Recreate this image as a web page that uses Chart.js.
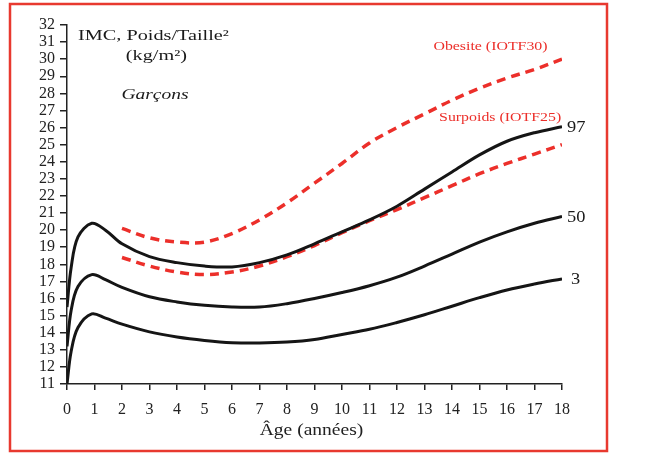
<!DOCTYPE html>
<html>
<head>
<meta charset="utf-8">
<script src="https://cdn.jsdelivr.net/npm/chart.js@4/dist/chart.umd.min.js"></script>
<style>
html, body { margin: 0; padding: 0; background: #fff; }
</style>
</head>
<body>
<canvas id="chartImc" width="646" height="455"></canvas>
<script>
// Courbes de corpulence - garçons (IMC en kg/m2)
const agesCourbe = [0, 0.15, 0.4, 0.9, 1.4, 2, 3, 4, 5, 6, 7, 8, 9, 10, 11, 12, 13, 14, 15, 16, 17, 18];
const p3  = [11.0, 12.9, 14.3, 15.1, 14.85, 14.5, 14.05, 13.75, 13.55, 13.42, 13.4, 13.45, 13.6, 13.9, 14.2, 14.6, 15.05, 15.55, 16.05, 16.5, 16.85, 17.15];
const p50 = [13.2, 15.3, 16.7, 17.4, 17.1, 16.65, 16.1, 15.8, 15.6, 15.5, 15.5, 15.7, 16.0, 16.35, 16.75, 17.25, 17.9, 18.6, 19.3, 19.9, 20.4, 20.8];
const p97 = [15.5, 17.8, 19.6, 20.4, 20.0, 19.2, 18.45, 18.1, 17.9, 17.85, 18.1, 18.55, 19.2, 19.9, 20.6, 21.4, 22.4, 23.4, 24.4, 25.2, 25.7, 26.05];

// seuils IOTF
const agesIotf = [2, 3, 4, 5, 6, 7, 8, 9, 10, 11, 12, 13, 14, 15, 16, 17, 18];
const iotf25 = [18.4, 17.9, 17.55, 17.4, 17.55, 17.9, 18.45, 19.1, 19.85, 20.55, 21.2, 21.9, 22.6, 23.3, 23.9, 24.45, 25.0];
const iotf30 = [20.1, 19.55, 19.3, 19.3, 19.8, 20.6, 21.6, 22.75, 23.9, 25.1, 26.0, 26.8, 27.6, 28.3, 28.9, 29.4, 30.0];

const etiquettesPercentile = ["3", "50", "97"];

const pts = (xs, ys) => xs.map((x, i) => ({ x: x, y: ys[i] }));

const noir = "#151515";
const rouge = "#ec2f2a";
const serif = "'Liberation Serif', 'DejaVu Serif', serif";

const courbe = (data) => ({
  data: data,
  borderColor: noir,
  borderWidth: 3,
  pointRadius: 0,
  tension: 0.35,
  fill: false,
});

const seuil = (data) => ({
  data: data,
  borderColor: rouge,
  borderWidth: 3.5,
  borderDash: [9, 6],
  pointRadius: 0,
  tension: 0.35,
  fill: false,
});

// texte elargi horizontalement comme sur l'original
function texte(ctx, str, x, y, align, etire) {
  ctx.save();
  ctx.translate(x, y);
  ctx.scale(etire, 1);
  ctx.textAlign = align;
  ctx.fillText(str, 0, 0);
  ctx.restore();
}

const textes = {
  id: "textes",
  beforeDraw(chart) {
    const ctx = chart.ctx;
    ctx.save();
    ctx.fillStyle = "#fff";
    ctx.fillRect(0, 0, chart.width, chart.height);
    ctx.restore();
  },
  afterDraw(chart) {
    const ctx = chart.ctx;
    const xs = chart.scales.x, ys = chart.scales.y;
    const px = (v) => xs.getPixelForValue(v);
    const py = (v) => ys.getPixelForValue(v);
    ctx.save();
    // cadre rouge
    ctx.strokeStyle = "#e8392f";
    ctx.lineWidth = 2.5;
    ctx.strokeRect(10, 4, 597, 447);

    ctx.textBaseline = "middle";
    ctx.fillStyle = "#1a1a1a";
    ctx.font = "15px " + serif;
    texte(ctx, "IMC, Poids/Taille²", px(0.4), py(31.35), "left", 1.35);
    texte(ctx, "(kg/m²)", px(3.25), py(30.2), "center", 1.35);
    ctx.font = "italic 15px " + serif;
    texte(ctx, "Garçons", px(3.2), py(27.9), "center", 1.3);

    // titre de l'axe des x
    ctx.font = "16px " + serif;
    ctx.fillStyle = "#222";
    texte(ctx, "Âge (années)", (xs.left + xs.right) / 2 - 3, xs.bottom - 24, "center", 1.22);

    // etiquettes des percentiles en fin de courbe
    ctx.fillStyle = "#1a1a1a";
    [p3, p50, p97].forEach((serie, i) => {
      texte(ctx, etiquettesPercentile[i], px(18) + (i === 0 ? 9 : 5), py(serie[serie.length - 1]) + 1, "left", 1.15);
    });

    // etiquettes IOTF
    ctx.fillStyle = rouge;
    ctx.font = "11.5px " + serif;
    texte(ctx, "Obesite (IOTF30)", px(15.4), py(30.7), "center", 1.38);
    texte(ctx, "Surpoids (IOTF25)", px(15.75), py(26.55), "center", 1.38);
    ctx.restore();
  },
};

new Chart(document.getElementById("chartImc"), {
  type: "line",
  data: {
    datasets: [
      courbe(pts(agesCourbe, p97)),
      courbe(pts(agesCourbe, p50)),
      courbe(pts(agesCourbe, p3)),
      seuil(pts(agesIotf, iotf30)),
      seuil(pts(agesIotf, iotf25)),
    ],
  },
  options: {
    responsive: false,
    animation: false,
    layout: { padding: { top: 25, right: 84, left: 0, bottom: 0 } },
    plugins: { legend: { display: false }, tooltip: { enabled: false } },
    scales: {
      x: {
        type: "linear",
        min: 0,
        max: 18,
        afterFit: (s) => { s.height = 71; },
        ticks: { stepSize: 1, autoSkip: false, color: "#222", padding: 10, font: { family: serif, size: 16 } },
        grid: { drawOnChartArea: false, drawTicks: true, tickLength: 6, color: "#222", lineWidth: 1.5 },
        border: { color: "#222", width: 1.5 },
      },
      y: {
        min: 11,
        max: 32,
        afterFit: (s) => { s.width = 67; },
        ticks: { stepSize: 1, autoSkip: false, color: "#222", padding: 5, font: { family: serif, size: 16 } },
        grid: { drawOnChartArea: false, drawTicks: true, tickLength: 7, color: "#222", lineWidth: 1.5 },
        border: { color: "#222", width: 1.5 },
      },
    },
  },
  plugins: [textes],
});
</script>
</body>
</html>
